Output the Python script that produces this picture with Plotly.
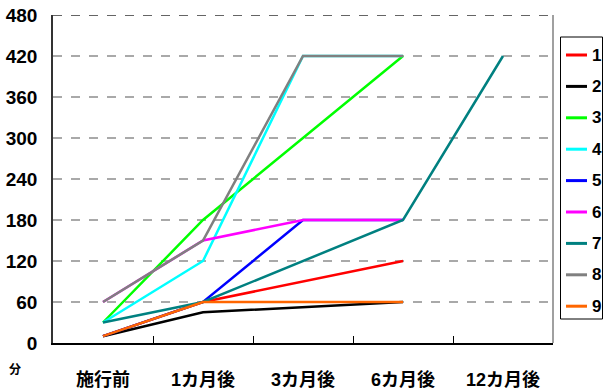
import plotly.graph_objects as go

categories = ["施行前", "1カ月後", "3カ月後", "6カ月後", "12カ月後"]
series_names = ["1", "2", "3", "4", "5", "6", "7", "8", "9"]
s1 = [10, 60, None, 120, None]
s2 = [10, 45, None, 60, None]
s3 = [30, 180, None, 420, None]
s4 = [30, 120, 420, 420, None]
s5 = [10, 60, 180, 180, None]
s6 = [60, 150, 180, 180, None]
s7 = [30, 60, None, 180, 420]
s8 = [60, 150, 420, 420, None]
s9 = [10, 60, 60, 60, None]
series_values = [s1, s2, s3, s4, s5, s6, s7, s8, s9]
colors = ["#FF0000", "#000000", "#00FF00", "#00FFFF", "#0000FF",
          "#FF00FF", "#008080", "#808080", "#FF6600"]
y_ticks = [0, 60, 120, 180, 240, 300, 360, 420, 480]

FONT = "Liberation Sans, Noto Sans CJK JP, sans-serif"
W, H = 604, 392
ML, MR, MT, MB = 53, 51, 15, 49
PW, PH = W - ML - MR, H - MT - MB


def px_x(p):
    return (p - ML) / PW


def px_y(p):
    return (H - MB - p) / PH


fig = go.Figure()
xs = list(range(len(categories)))
for name, vals, c in zip(series_names, series_values, colors):
    fig.add_trace(go.Scatter(x=xs, y=vals, mode="lines", name=name,
                             connectgaps=True, showlegend=False,
                             line=dict(color=c, width=2.5)))

# grid lines (dashed)
for v in y_ticks[1:-1]:
    fig.add_shape(type="line", xref="paper", yref="y", x0=0, x1=1, y0=v, y1=v,
                  line=dict(color="#555555", width=1.2, dash="dash"), layer="below")
fig.add_shape(type="line", xref="paper", yref="y", x0=0, x1=1, y0=480, y1=480,
              line=dict(color="#333333", width=1.5, dash="dash"), layer="below")
fig.add_shape(type="line", xref="paper", yref="paper", x0=1, x1=1, y0=0, y1=1,
              line=dict(color="#808080", width=1.5), layer="below")

# legend box (drawn manually to match the compact reference legend)
fig.add_shape(type="rect", xref="paper", yref="paper",
              x0=px_x(560.5), x1=px_x(602.5), y0=px_y(319), y1=px_y(37),
              line=dict(color="#000000", width=1), fillcolor="white")
for i, (name, c) in enumerate(zip(series_names, colors)):
    yy = 55 + i * 31.4
    fig.add_shape(type="line", xref="paper", yref="paper",
                  x0=px_x(566), x1=px_x(587), y0=px_y(yy), y1=px_y(yy),
                  line=dict(color=c, width=3))
    fig.add_annotation(text="<b>" + name + "</b>", xref="paper", yref="paper",
                       x=px_x(590), y=px_y(yy), xanchor="left", yanchor="middle",
                       showarrow=False,
                       font=dict(family=FONT, size=17, color="#000000"))

fig.update_xaxes(range=[-0.5, 4.5], tickvals=xs, ticktext=categories,
                 showgrid=False, zeroline=False, showline=True,
                 linecolor="#000000", linewidth=1.5, ticks="",
                 tickfont=dict(family=FONT, size=18, color="#000000"),
                 ticklabelstandoff=20,
                 minor=dict(tickvals=[0.5, 1.5, 2.5, 3.5], ticks="inside",
                            ticklen=7, tickcolor="#000000", tickwidth=1),
                 fixedrange=True)
fig.update_yaxes(range=[0, 480], tickvals=y_ticks, showgrid=False,
                 zeroline=False, showline=True, linecolor="#333333",
                 linewidth=1.5, ticks="",
                 tickfont=dict(family=FONT, size=19, color="#000000"),
                 ticklabelstandoff=10)

fig.add_annotation(text="<b>分</b>", xref="paper", yref="paper",
                   x=px_x(15), y=px_y(368), xanchor="center", yanchor="middle",
                   showarrow=False,
                   font=dict(family="Noto Sans CJK JP", size=12, color="#000000"))

fig.update_layout(
    width=W, height=H,
    margin=dict(l=ML, r=MR, t=MT, b=MB, autoexpand=False),
    paper_bgcolor="white", plot_bgcolor="white",
    font=dict(family=FONT, color="#000000", weight="bold"),
    showlegend=False,
)

fig.write_html("out.html")
